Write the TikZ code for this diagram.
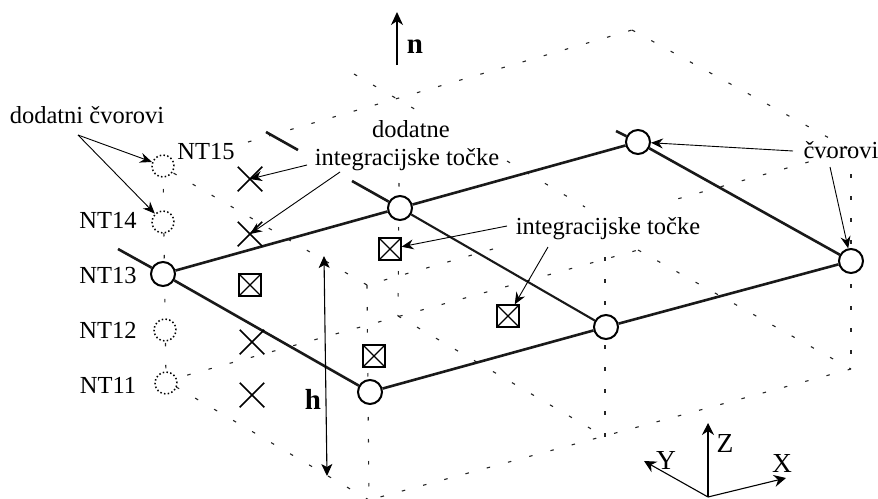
\documentclass[tikz,border=0pt]{standalone}
\usepackage{fontspec}
\setmainfont{Liberation Serif}
\usetikzlibrary{arrows.meta,shapes.misc}
\tikzset{
  hid/.style={line width=1.1pt,dash pattern=on 3.5pt off 18.5pt,black!85},
  shell/.style={line width=2.6pt,black!90},
  thinarrow/.style={line width=0.9pt,-{Stealth[length=12pt,width=10pt,inset=4pt]}},
  boldarrow/.style={line width=1.6pt,-{Stealth[length=13pt,width=12pt,inset=4pt]}},
  axisarrow/.style={line width=1.1pt,-{Stealth[length=12pt,width=12pt,inset=4pt]}},
  lab/.style={anchor=base,inner sep=0pt,font=\fontsize{24.5}{27}\selectfont},
  biglab/.style={lab,font=\fontsize{27.5}{30}\selectfont},
  blab/.style={lab,font=\fontsize{29}{32}\selectfont\bfseries},
  cornode/.style={circle,draw,fill=white,line width=2pt,minimum size=24pt,inner sep=0pt},
  extranode/.style={circle,draw,fill=white,line width=1.5pt,dash pattern=on 1.5pt off 2.3pt,minimum size=22pt,inner sep=0pt},
  xmark/.style={cross out,draw,line width=1.5pt,minimum size=23pt,inner sep=0pt},
  gpoint/.style={rectangle,draw,fill=white,line width=1.2pt,minimum size=22pt,inner sep=0pt,
    path picture={\draw[line width=1.1pt] (path picture bounding box.south west) -- (path picture bounding box.north east)
      (path picture bounding box.north west) -- (path picture bounding box.south east);}},
}
\begin{document}
\begin{tikzpicture}[x=1pt,y=-1pt]
\useasboundingbox (0,0) rectangle (878,498);
% coordinates of hidden box
\coordinate (TA) at (163,167);
\coordinate (TA2) at (248,142);
\coordinate (TBb) at (354,74);
\coordinate (TB2) at (418,111);
\coordinate (TB3) at (507,161);
\coordinate (TB4) at (585,207);
\coordinate (TC) at (632,30);
\coordinate (TD) at (851,150);
\coordinate (TD2) at (663,203);
\coordinate (TF2) at (493,249);
\coordinate (TF) at (367,285);
\coordinate (BA) at (166,381);
\coordinate (BB) at (398,316);
\coordinate (BC) at (638,250);
\coordinate (BD) at (851,369);
\coordinate (BE) at (605,437);
\coordinate (BF) at (369,500);
\coordinate (VB) at (399,183);
\coordinate (VE) at (605,257);
\coordinate (VD) at (851,174);
\coordinate (SA) at (118,249);
\coordinate (SB1) at (266,132);
\coordinate (SB2) at (298,150);
\coordinate (SB3) at (352,181);
\coordinate (SC) at (616,131);
\coordinate (O) at (708,497);
\coordinate (ZE) at (708,423);
\coordinate (YE) at (644,461);
\coordinate (XE) at (786,478);
\coordinate (NB) at (397,65);
\coordinate (NE) at (397,12);
\coordinate (H1) at (324,256);
\coordinate (H2) at (327,476);
\coordinate (a1) at (78,135);
\coordinate (a2) at (307,165);
\coordinate (a3) at (340,172);
\coordinate (a4) at (793,151);
\coordinate (a5) at (830,167);
\coordinate (a6) at (507,226);
\coordinate (a7) at (548,247);
% hidden lines
\draw[hid] (TA2) -- (TC);
\draw[hid] (TC) -- (TD);
\draw[hid] (TD) -- (TD2);
\draw[hid] (TF2) -- (TF);
\draw[hid] (TF) -- (TA);
\draw[hid] (TBb) -- (TB2);
\draw[hid] (TB3) -- (TB4);
\draw[hid] (BA) -- (BC);
\draw[hid] (BC) -- (BD);
\draw[hid] (BD) -- (BF);
\draw[hid] (BF) -- (BA);
\draw[hid] (BB) -- (BE);
\draw[hid] (TA) -- (BA);
\draw[hid] (VB) -- (BB);
\draw[hid] (TF) -- (BF);
\draw[hid] (VE) -- (BE);
\draw[hid] (VD) -- (BD);
% nodes
\node[cornode] (A) at (163,274) {};
\node[cornode] (B) at (400,208) {};
\node[cornode] (C) at (638,142) {};
\node[cornode] (D) at (851,261) {};
\node[cornode] (E) at (606,327) {};
\node[cornode] (F) at (370,392) {};
\draw[shell] (A) -- (B);
\draw[shell] (B) -- (C);
\draw[shell] (C) -- (D);
\draw[shell] (A) -- (F);
\draw[shell] (F) -- (E);
\draw[shell] (E) -- (D);
\draw[shell,line width=2.1pt] (B) -- (E);
\draw[shell] (SA) -- (A);
\draw[shell] (SB1) -- (SB2);
\draw[shell] (SB3) -- (B);
\draw[shell] (SC) -- (C);
\node[extranode] (n15) at (163,166) {};
\node[extranode] (n14) at (163,222) {};
\node[extranode] (n12) at (165,330) {};
\node[extranode] (n11) at (166,383) {};
\node[xmark] (x15) at (250,179) {};
\node[xmark] (x14) at (250,234) {};
\node[xmark] (x12) at (252,342) {};
\node[xmark] (x11) at (252,395) {};
\node[gpoint] (g1) at (250,285) {};
\node[gpoint] (g2) at (390,249) {};
\node[gpoint] (g3) at (374,356) {};
\node[gpoint] (g4) at (508,316) {};
% labels
\node[lab] (ldn) at (87,123) {dodatni čvorovi};
\node[lab] (l15) at (206,159) {NT15};
\node[lab] (l14) at (108,228) {NT14};
\node[lab] (l13) at (108,283) {NT13};
\node[lab] (l12) at (108,338) {NT12};
\node[lab] (l11) at (108,393) {NT11};
\node[lab] (ldi1) at (411,137) {dodatne};
\node[lab] (ldi2) at (407,165) {integracijske točke};
\node[lab] (lit) at (608,234) {integracijske točke};
\node[lab] (lcv) at (841,158) {čvorovi};
\node[blab] (ln) at (415,53) {n};
\node[blab] (lh) at (313,409) {h};
\node[biglab] (lz) at (725,452) {Z};
\node[biglab] (ly) at (666,469) {Y};
\node[biglab] (lx) at (782,472) {X};
% arrows
\draw[thinarrow] (a1) -- (n15);
\draw[thinarrow] (a1) -- (n14);
\draw[thinarrow] (a2) -- (x15.center);
\draw[thinarrow] (a3) -- (x14.center);
\draw[thinarrow] (a4) -- (C);
\draw[thinarrow] (a5) -- (D);
\draw[thinarrow] (a6) -- (g2);
\draw[thinarrow] (a7) -- (g4);
\draw[line width=1.1pt,{Stealth[length=12pt,width=11pt,inset=3pt]}-{Stealth[length=12pt,width=11pt,inset=3pt]}] (H1) -- (H2);
\draw[boldarrow] (NB) -- (NE);
\draw[axisarrow] (O) -- (ZE);
\draw[axisarrow] (O) -- (YE);
\draw[axisarrow] (O) -- (XE);
\end{tikzpicture}
\end{document}
